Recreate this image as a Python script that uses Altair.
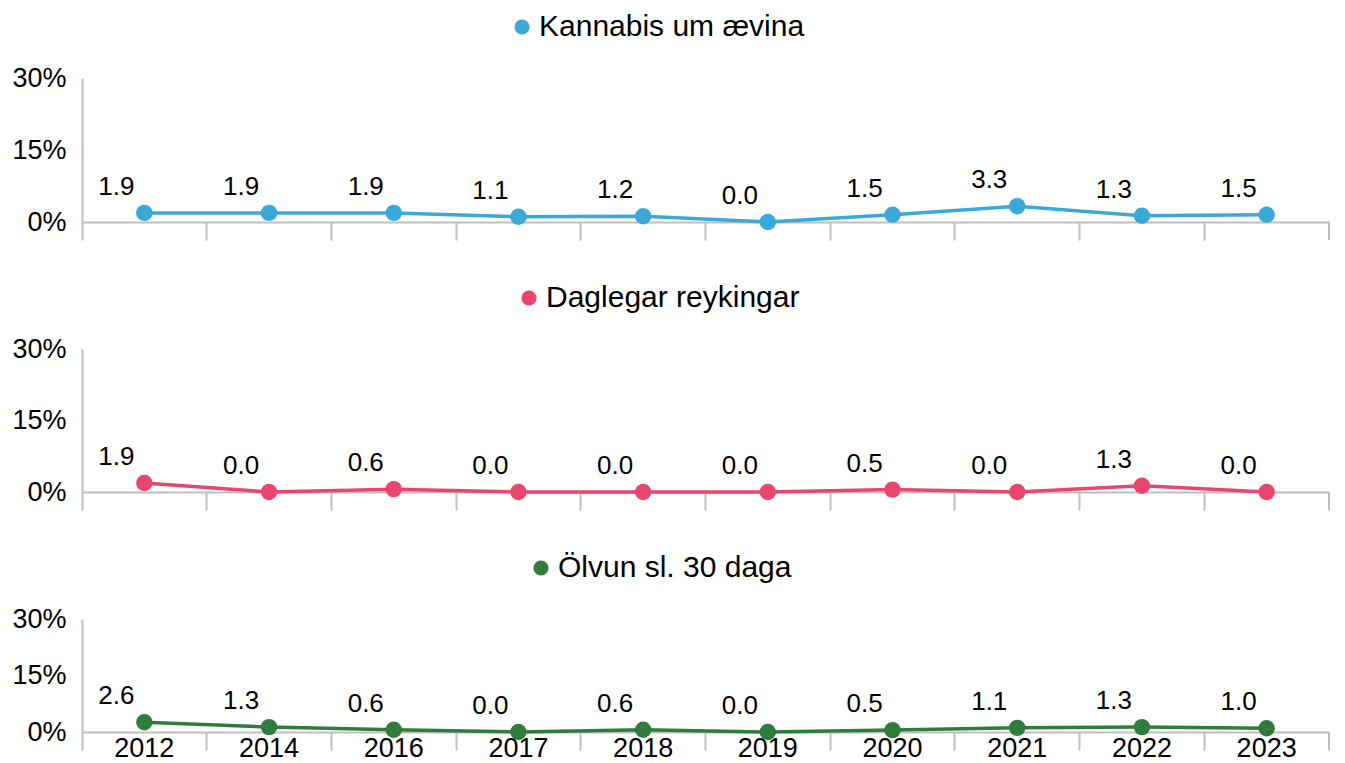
import altair as alt
import pandas as pd

years = ["2012", "2014", "2016", "2017", "2018", "2019", "2020", "2021", "2022", "2023"]
kannabis = [1.9, 1.9, 1.9, 1.1, 1.2, 0.0, 1.5, 3.3, 1.3, 1.5]
reykingar = [1.9, 0.0, 0.6, 0.0, 0.0, 0.0, 0.5, 0.0, 1.3, 0.0]
olvun = [2.6, 1.3, 0.6, 0.0, 0.6, 0.0, 0.5, 1.1, 1.3, 1.0]
series_names = ["Kannabis um ævina", "Daglegar reykingar", "Ölvun sl. 30 daga"]
colors = ["#3BA9D8", "#E8466C", "#2F7C3C"]
y_ticks = [0, 15, 30]

FONT = "Liberation Sans"
GRAY = "#BFBFBF"
W = 1247


def panel(name, vals, color, height, show_x_labels, legend_x):
    df = pd.DataFrame({"year": years, "value": vals, "series": name})
    base = alt.Chart(df)
    xscale = alt.Scale(type="band", paddingInner=0, paddingOuter=0)
    x_axis = alt.Axis(
        bandPosition=0, ticks=True, tickSize=18, tickColor=GRAY, tickWidth=2,
        domainColor=GRAY, domainWidth=2, labels=show_x_labels, labelAngle=0,
        labelFontSize=27, labelFont=FONT, labelColor="black", labelPadding=-15,
        grid=False, title=None,
    )
    x = alt.X("year:N", sort=years, scale=xscale, axis=x_axis, bandPosition=0.5)
    y = alt.Y(
        "value:Q",
        scale=alt.Scale(domain=[0, 30], nice=False),
        axis=alt.Axis(
            values=y_ticks, labelExpr="datum.value + '%'", ticks=False, grid=False,
            domainColor=GRAY, domainWidth=2, labelFontSize=27, labelFont=FONT,
            labelColor="black", labelPadding=16, title=None,
        ),
    )
    line = base.mark_line(color=color, strokeWidth=3.5).encode(x=x, y=y)
    pts = base.mark_point(filled=True, size=270, opacity=1).encode(
        x=x, y=y,
        color=alt.Color(
            "series:N",
            scale=alt.Scale(domain=[name], range=[color]),
            legend=alt.Legend(
                title=None, orient="none", legendX=legend_x, legendY=-66,
                labelFontSize=30, labelFont=FONT, labelColor="black",
                symbolType="circle", symbolSize=230, symbolStrokeWidth=0,
                labelOffset=2, labelLimit=0,
            ),
        ),
    )
    labels = base.mark_text(
        fontSize=26, font=FONT, color="black", dx=-28, dy=-26
    ).encode(x=x, y=y, text=alt.Text("value:Q", format=".1f"))
    end_tick = base.transform_filter(alt.datum.year == years[-1]).mark_rule(
        color=GRAY, strokeWidth=2
    ).encode(
        x=alt.X("year:N", sort=years, scale=xscale, axis=x_axis, bandPosition=1),
        y=alt.value(height), y2=alt.value(height + 18),
    )
    return alt.layer(line, pts, labels, end_tick).properties(width=W, height=height)


p1 = panel(series_names[0], kannabis, colors[0], 144, False, 425)
p2 = panel(series_names[1], reykingar, colors[1], 143, False, 432)
p3 = panel(series_names[2], olvun, colors[2], 113, True, 444)

chart = (
    alt.vconcat(p1, p2, p3, spacing=42)
    .properties(padding={"left": 3, "top": 4, "right": 5, "bottom": 5})
    .resolve_scale(color="independent")
    .resolve_legend(color="independent")
    .configure_view(strokeWidth=0)
)

chart.save("out.html", embed_options={"renderer": "svg", "actions": False})
